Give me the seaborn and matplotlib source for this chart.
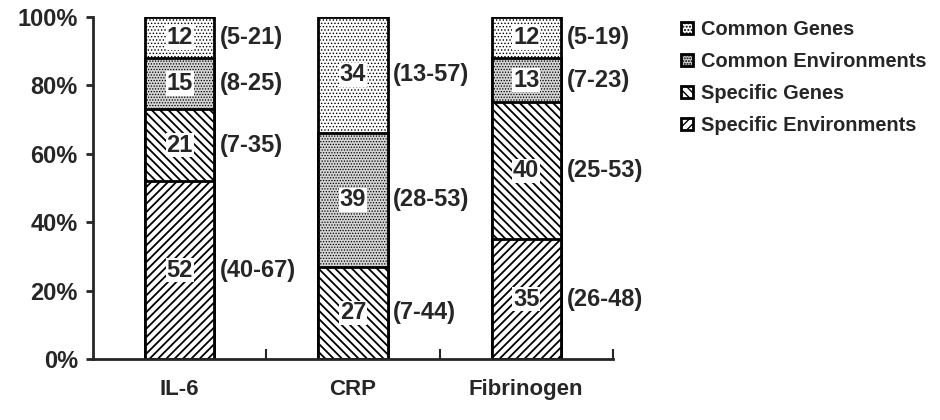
import numpy as np
import pandas as pd
import matplotlib
matplotlib.use("Agg")
import matplotlib.pyplot as plt
from matplotlib.ticker import PercentFormatter, FixedLocator
import seaborn as sns

# Data
categories = ["IL-6", "CRP", "Fibrinogen"]
spec_env = [52, 0, 35]
spec_genes = [21, 27, 40]
common_env = [15, 39, 13]
common_genes = [12, 34, 12]
spec_env_ci = ["(40-67)", "", "(26-48)"]
spec_genes_ci = ["(7-35)", "(7-44)", "(25-53)"]
common_env_ci = ["(8-25)", "(28-53)", "(7-23)"]
common_genes_ci = ["(5-21)", "(13-57)", "(5-19)"]

sns.set_style("ticks")
plt.rcParams["font.family"] = ["Liberation Sans", "DejaVu Sans"]
plt.rcParams["font.weight"] = "bold"
plt.rcParams["hatch.color"] = "black"

# name, values, ranges, face, hatch, hatch linewidth
layers = [
    ("Specific Environments", spec_env, spec_env_ci, "white", "////", 1.3),
    ("Specific Genes", spec_genes, spec_genes_ci, "white", "\\\\\\\\", 1.3),
    ("Common Environments", common_env, common_env_ci, "#d4d4d4", "......", 0.6),
    ("Common Genes", common_genes, common_genes_ci, "white", ".....", 0.6),
]

df = pd.DataFrame({"cat": categories})
cum = np.zeros(len(categories))
bottoms = []
for name, vals, ci, fc, hatch, hlw in layers:
    bottoms.append(cum.copy())
    cum = cum + np.array(vals)
    df[name] = cum

fig, ax = plt.subplots(figsize=(9.4, 4.2), dpi=100)
fig.subplots_adjust(left=0.099, right=0.652, top=0.96, bottom=0.145)

# draw cumulative bars from the top layer down so lower layers overlap
handles = []
for name, vals, ci, fc, hatch, hlw in reversed(layers):
    with plt.rc_context({"hatch.linewidth": hlw}):
        sns.barplot(data=df, x="cat", y=name, color=fc, saturation=1, width=0.4,
                    edgecolor="black", linewidth=2, hatch=hatch, ax=ax)
        handles.append(plt.Rectangle((0, 0), 1, 1, facecolor=fc, edgecolor="black",
                                     linewidth=2, hatch=hatch, label=name))

# value labels and ranges
for (name, vals, ci, fc, hatch, hlw), bot in zip(layers, bottoms):
    for i, v in enumerate(vals):
        if v == 0:
            continue
        yc = bot[i] + v / 2
        ax.text(i, yc, str(v), ha="center", va="center", fontsize=17,
                fontweight="bold",
                bbox=dict(facecolor="white", edgecolor="none", pad=0.5))
        ax.annotate(ci[i], xy=(i + 0.2, yc), xytext=(4, 0),
                    textcoords="offset points", ha="left", va="center",
                    fontsize=17, fontweight="bold")

ax.set_xlim(-0.5, 2.5)
ax.set_ylim(0, 100)
ax.yaxis.set_major_formatter(PercentFormatter(100, decimals=0))
ax.set_yticks([0, 20, 40, 60, 80, 100])
ax.set_xlabel("")
ax.set_ylabel("")
ax.tick_params(axis="x", which="major", length=0, labelsize=16, pad=14)
ax.tick_params(axis="y", which="major", length=5, width=2, labelsize=17, pad=6)
ax.xaxis.set_minor_locator(FixedLocator([0.5, 1.5, 2.5]))
ax.tick_params(axis="x", which="minor", direction="in", length=7, width=1.5)
for lab in ax.get_xticklabels() + ax.get_yticklabels():
    lab.set_fontweight("bold")
sns.despine(ax=ax)
for s in ["left", "bottom"]:
    ax.spines[s].set_linewidth(2)

fig.legend(handles=handles, loc="upper left", bbox_to_anchor=(0.705, 0.995),
           frameon=False, handlelength=0.6, handleheight=0.6,
           handletextpad=0.4, labelspacing=0.65,
           prop={"weight": "bold", "size": 14.4})

fig.savefig("out.png", dpi=100)
